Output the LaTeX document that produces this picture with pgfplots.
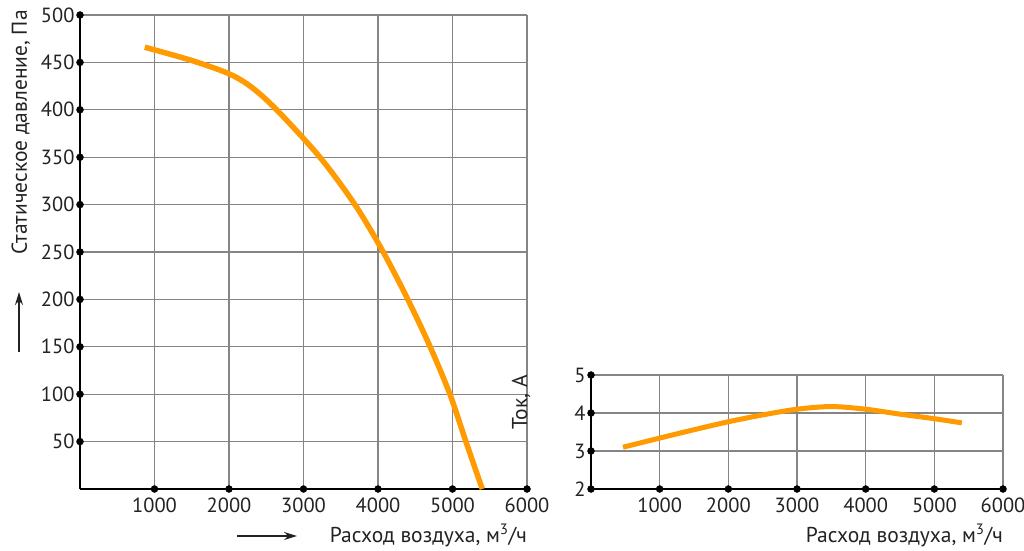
\documentclass[border=0pt]{standalone}
\usepackage{pgfplots}
\pgfplotsset{compat=1.18}
\usepackage{fontspec}
\setmainfont{PT Sans}
\usetikzlibrary{arrows.meta}

\definecolor{curve}{HTML}{FF9A00}
\definecolor{gridc}{HTML}{858585}
\definecolor{txt}{HTML}{222222}

\pgfplotsset{
  fanstyle/.style={
    scale only axis,
    anchor=south west,
    clip=false,
    axis x line=bottom,
    axis y line=left,
    axis line style={-, black, line width=2pt},
    grid=major,
    grid style={gridc, line width=1.2pt},
    major tick length=0pt,
    scaled ticks=false,
    /pgf/number format/assume math mode=true,
    /pgf/number format/set thousands separator={},
    tick label style={font=\fontsize{20.5}{24}\selectfont, text=txt},
    xticklabel style={yshift=-5pt},
    yticklabel style={xshift=-2pt},
    xmin=0, xmax=6000,
    xtick={1000,2000,3000,4000,5000,6000},
  }
}

\begin{document}
\begin{tikzpicture}[x=1pt, y=1pt, font=\fontsize{21.5}{25}\selectfont]
\useasboundingbox (0,0) rectangle (1024,550);

% static pressure
\begin{axis}[fanstyle,
  at={(80pt,61pt)}, width=447pt, height=474pt,
  ymin=0, ymax=500,
  ytick={50,100,150,200,250,300,350,400,450,500},
]
\addplot[curve, line width=5.5pt, smooth] coordinates {
  (870,466) (1500,452) (2000,438) (2300,424) (2640,400) (3220,350) (3690,300)
  (4070,250) (4400,200) (4700,150) (4965,100) (5180,50) (5400,0)
};
\addplot[only marks, mark=*, mark size=3.5pt, black] coordinates {
  (0,50) (0,100) (0,150) (0,200) (0,250) (0,300) (0,350) (0,400) (0,450) (0,500)
  (1000,0) (2000,0) (3000,0) (4000,0) (5000,0) (6000,0)
};
\end{axis}

% current
\begin{axis}[fanstyle,
  at={(591pt,61pt)}, width=412pt, height=114pt,
  ymin=2, ymax=5,
  ytick={2,3,4,5},
]
\addplot[curve, line width=5pt, smooth] coordinates {
  (466,3.10) (1000,3.34) (1500,3.56) (2000,3.77) (2500,3.95) (3000,4.10)
  (3500,4.17) (4000,4.10) (4500,3.97) (5000,3.85) (5400,3.74)
};
\addplot[only marks, mark=*, mark size=3.5pt, black] coordinates {
  (0,2) (0,3) (0,4) (0,5)
  (1000,2) (2000,2) (3000,2) (4000,2) (5000,2) (6000,2)
};
\end{axis}

% labels
\node[rotate=90, anchor=base east, inner sep=0pt, text=txt] at (27,540) {Статическое давление, Па};
\draw[line width=1.5pt, txt, -{Stealth[length=13pt, width=8pt]}] (19,198) -- (19,258);
\node[anchor=base east, inner sep=0pt, text=txt] at (527,8) {Расход воздуха, м\textsuperscript{3}/ч};
\draw[line width=1.5pt, txt, -{Stealth[length=13pt, width=8pt]}] (237,14) -- (297,14);

\node[rotate=90, anchor=base east, inner sep=0pt, text=txt] at (527,175) {Ток, А};
\node[anchor=base east, inner sep=0pt, text=txt] at (1003,8) {Расход воздуха, м\textsuperscript{3}/ч};
\end{tikzpicture}
\end{document}
